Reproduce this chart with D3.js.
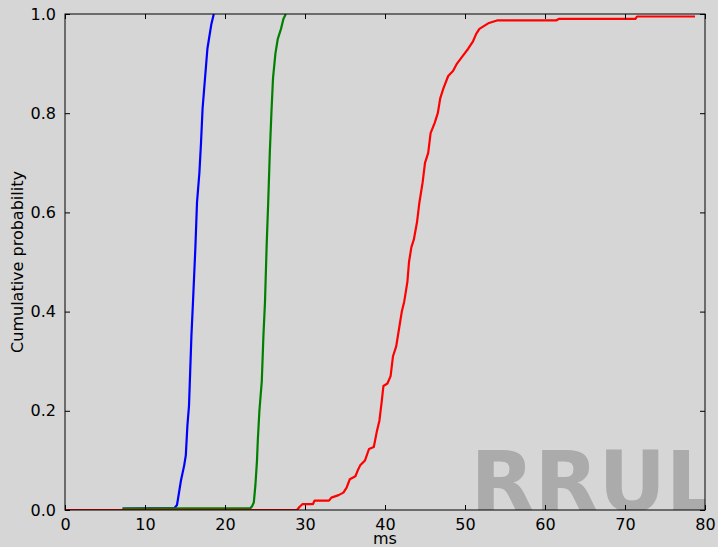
<!DOCTYPE html>
<html><head><meta charset="utf-8">
<script src="https://cdn.jsdelivr.net/npm/d3@7"></script>
<style>
html,body{margin:0;padding:0;background:#d6d6d6;}
svg{display:block;}
text{font-family:"DejaVu Sans",sans-serif;fill:#000;}
</style></head>
<body>
<script>
const xTicks = [0,10,20,30,40,50,60,70,80];
const yTicks = [0.0,0.2,0.4,0.6,0.8,1.0];

const blueMs = [7.2,13.7,14.0,14.3,14.5,14.9,15.1,15.3,15.5,15.8,16.0,16.3,16.5,16.8,17.0,17.2,17.5,17.8,18.0,18.3,18.6];
const blueP  = [0.003,0.004,0.01,0.04,0.06,0.09,0.11,0.17,0.21,0.35,0.42,0.53,0.62,0.68,0.74,0.81,0.87,0.93,0.95,0.98,1.0];

const greenMs = [7.2,23.2,23.4,23.6,23.8,24.0,24.1,24.3,24.4,24.6,24.8,25.0,25.2,25.4,25.6,25.8,26.0,26.3,26.6,27.0,27.3,27.6];
const greenP  = [0.003,0.004,0.008,0.015,0.05,0.1,0.14,0.2,0.22,0.26,0.35,0.42,0.53,0.62,0.72,0.8,0.87,0.92,0.95,0.97,0.99,1.0];

const redMs = [0,29.0,29.3,29.7,31.0,31.2,33.0,33.3,34.2,34.8,35.2,35.6,36.3,36.6,36.9,37.5,38.0,38.6,39.0,39.3,39.6,39.8,40.3,40.7,41.0,41.4,41.8,42.1,42.4,42.8,43.0,43.3,43.6,44.0,44.3,44.7,45.0,45.4,45.7,46.2,46.6,46.9,47.3,47.9,48.5,49.0,49.7,50.4,51.0,51.4,51.8,52.3,53.0,54.0,61.4,61.7,71.3,71.5,78.75];
const redP  = [0,0,0.006,0.012,0.012,0.019,0.019,0.025,0.03,0.035,0.045,0.062,0.068,0.08,0.09,0.1,0.123,0.127,0.16,0.18,0.22,0.25,0.255,0.27,0.31,0.33,0.37,0.4,0.42,0.46,0.5,0.53,0.545,0.58,0.62,0.66,0.7,0.72,0.76,0.78,0.8,0.83,0.85,0.875,0.885,0.9,0.915,0.93,0.945,0.96,0.97,0.975,0.982,0.987,0.987,0.99,0.99,0.995,0.995];

const seriesNames = ["blue","green","red"];
const seriesColors = ["#0000ff","#008000","#ff0000"];
const seriesData = [[blueMs,blueP],[greenMs,greenP],[redMs,redP]];

const W = 718, H = 547;
const m = {left:65, right:13, top:14, bottom:37};
const svg = d3.select("body").append("svg").attr("width",W).attr("height",H);
svg.append("rect").attr("width",W).attr("height",H).attr("fill","#d6d6d6");

const x = d3.scaleLinear().domain([0,80]).range([m.left, W-m.right]);
const y = d3.scaleLinear().domain([0,1]).range([H-m.bottom, m.top]);

svg.append("defs").append("clipPath").attr("id","clip")
  .append("rect").attr("x",m.left).attr("y",m.top)
  .attr("width",W-m.left-m.right).attr("height",H-m.top-m.bottom);

const g = svg.append("g").attr("clip-path","url(#clip)");
// watermark
g.append("text").attr("x",x(50.7)).attr("y",y(0)+1)
  .style("font-size","83px").style("font-weight","bold").style("fill","#ababab")
  .text("RRUL");

const line = d3.line().x(d=>x(d[0])).y(d=>y(d[1]));
seriesData.forEach((s,i)=>{
  const pts = s[0].map((v,k)=>[v,s[1][k]]);
  g.append("path").datum(pts).attr("d",line)
   .attr("fill","none").attr("stroke",seriesColors[i]).attr("stroke-width",2.2)
   .attr("stroke-linejoin","round");
});

// axes (ticks inward)
const fs = "16px";
const axB = svg.append("g").attr("transform",`translate(0,${H-m.bottom})`)
  .call(d3.axisBottom(x).tickValues(xTicks).tickSize(-5).tickPadding(9).tickFormat(d3.format("d")));
const axT = svg.append("g").attr("transform",`translate(0,${m.top})`)
  .call(d3.axisTop(x).tickValues(xTicks).tickSize(-5).tickFormat(""));
const axL = svg.append("g").attr("transform",`translate(${m.left},0)`)
  .call(d3.axisLeft(y).tickValues(yTicks).tickSize(-5).tickPadding(9).tickFormat(d3.format(".1f")));
const axR = svg.append("g").attr("transform",`translate(${W-m.right},0)`)
  .call(d3.axisRight(y).tickValues(yTicks).tickSize(-5).tickFormat(""));
[axB,axT,axL,axR].forEach(a=>{
  a.select(".domain").remove();
  a.selectAll("line").attr("stroke","#000");
  a.selectAll("text").style("font-size",fs).style("font-family","DejaVu Sans").attr("fill","#000");
});
svg.append("rect").attr("x",m.left).attr("y",m.top)
  .attr("width",W-m.left-m.right).attr("height",H-m.top-m.bottom)
  .attr("fill","none").attr("stroke","#000").attr("stroke-width",1);

svg.append("text").attr("x",(m.left+W-m.right)/2).attr("y",544)
  .attr("text-anchor","middle").style("font-size","16px").text("ms");
svg.append("text").attr("transform",`translate(23,${(m.top+H-m.bottom)/2}) rotate(-90)`)
  .attr("text-anchor","middle").style("font-size","16px").text("Cumulative probability");
</script>
</body></html>
